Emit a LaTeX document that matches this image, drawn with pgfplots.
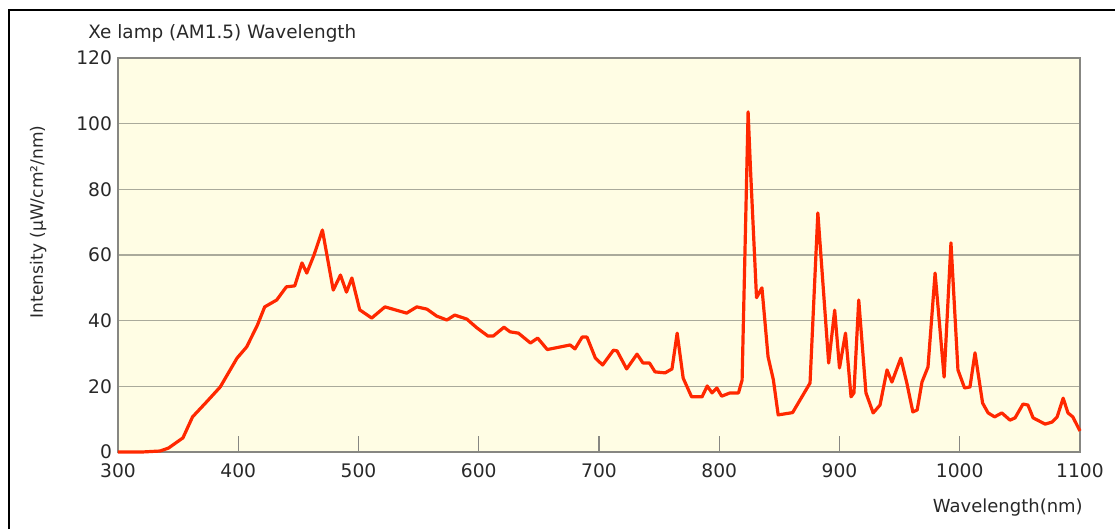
\documentclass[border=0pt]{standalone}
\usepackage{fontspec}
\setmainfont{DejaVu Sans}
\usepackage{pgfplots}
\pgfplotsset{compat=1.18}
\definecolor{bgy}{RGB}{255,253,228}
\definecolor{gridc}{RGB}{170,170,155}
\definecolor{framec}{RGB}{135,135,130}
\definecolor{curve}{RGB}{255,40,0}
\definecolor{txt}{RGB}{40,40,40}
\begin{document}
\begin{tikzpicture}[x=0.75pt,y=0.75pt]
\useasboundingbox (-118,-77) rectangle (997,452);
\draw[black, line width=1.5pt] (-109,-77) -- (-109,442) -- (997,442);
\begin{axis}[
  anchor=south west,
  scale only axis, width=721.5pt, height=295.5pt,
  xmin=300, xmax=1100, ymin=0, ymax=120,
  xtick={300,400,...,1100}, ytick={0,20,...,120},
  xtick pos=bottom, ytick pos=left,
  ymajorgrids, grid style={gridc, line width=1pt},
  axis background/.style={fill=bgy},
  axis line style={framec, line width=1.3pt},
  xtick style={framec, line width=1pt},
  ytick style={draw=none},
  tick align=inside, major tick length=12pt,
  clip=false,
  /pgf/number format/assume math mode=true,
  /pgf/number format/1000 sep={},
  ticklabel style={font=\fontsize{14}{15}\selectfont, text=txt},
  xticklabel style={yshift=-5pt},
  yticklabel style={xshift=-1pt},
  title={Xe lamp (AM1.5) Wavelength},
  title style={at={(axis description cs:-0.031,1.041)}, anchor=west, font=\fontsize{13.8}{15}\selectfont, text=txt, inner sep=0pt},
  xlabel={Wavelength(nm)},
  xlabel style={at={(axis description cs:0.925,-0.142)}, anchor=center, font=\fontsize{13.5}{15}\selectfont, text=txt},
  ylabel={Intensity (μW/cm²/nm)},
  ylabel style={at={(axis description cs:-0.083,0.584)}, anchor=center, font=\fontsize{12.8}{14}\selectfont, text=txt},
]
\addplot[curve, line width=2.4pt, line join=round, mark=none] coordinates {
(300,0) (320,0) (335,0.3) (342,1.2) (354,4.3) (362,10.7) (373,15) (385,19.8)
(399,28.6) (407,32) (416,38.7) (422,44.2) (432,46.3) (440,50.3) (447,50.6)
(453,57.6) (457,54.5) (463,60) (470,67.6) (479,49.3) (485,53.9) (490,48.7)
(494.5,53) (501,43.3) (511,40.8) (522,44.2) (540,42.3) (548.5,44.2) (557,43.5)
(565,41.4) (573.5,40.2) (580,41.7) (590,40.5) (598.5,37.8) (607.7,35.3) (612,35.3)
(621,38) (626,36.6) (633,36.2) (643,33.2) (649,34.7) (657,31.2) (676,32.6)
(680,31.4) (686,35) (690,35) (697,28.6) (703,26.5) (712,31) (715,30.8)
(723,25.3) (731.6,29.8) (736.6,27.1) (742,27.1) (746.6,24.4) (755,24.1) (760.7,25.3)
(765,36.2) (770,22.5) (777,16.8) (785.7,16.8) (790,20.1) (794,18) (798,19.5)
(802,17) (809,18) (816,18) (819,21.9) (824,103.6) (826,86) (831,47) (835.5,50)
(840.6,29) (845,22) (849,11.3) (861,12) (875.5,21) (882,72.8) (891,27.1)
(896,43.2) (900,25.6) (905,36.2) (909.6,16.8) (912,18) (916,46.3) (922,18)
(928,11.9) (933.7,14.3) (939.5,25) (943.6,21.3) (951,28.6) (956,21) (961,12.2)
(964.6,12.8) (968.6,21.3) (973.6,25.9) (979.5,54.5) (987,22.8) (992.7,63.7)
(998.5,25) (1004,19.5) (1008.5,19.8) (1012.7,30.2) (1019,14.9) (1023.6,11.9)
(1029,10.7) (1035,11.9) (1041.8,9.7) (1046,10.4) (1052.6,14.6) (1056.7,14.3)
(1061,10.4) (1071,8.5) (1076.7,9.1) (1081,10.7) (1086,16.4) (1090,11.9)
(1094,10.7) (1100,6.4)
};
\end{axis}
\end{tikzpicture}
\end{document}
